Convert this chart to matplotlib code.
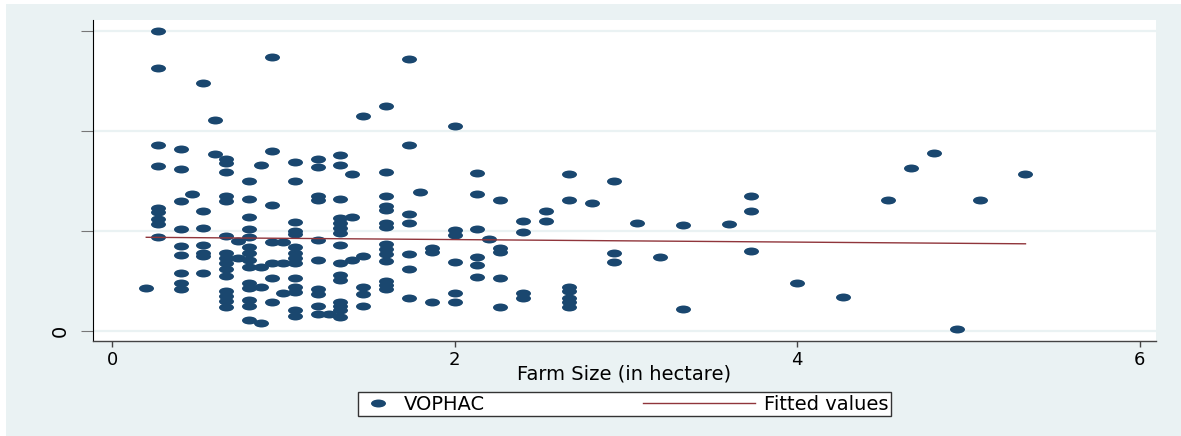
import matplotlib
matplotlib.use('Agg')
import matplotlib.pyplot as plt
import numpy as np
from matplotlib.path import Path
from matplotlib.transforms import Affine2D
from matplotlib.patches import Rectangle
from matplotlib.legend_handler import HandlerLine2D

plt.rcParams['font.family'] = ['DejaVu Sans']

# farm size (ha) and VOPHAC
farm_size = [
    0.2,
    0.267, 0.267, 0.267, 0.267, 0.267, 0.267, 0.267, 0.267, 0.267,
    0.4, 0.4, 0.4, 0.4, 0.4, 0.4, 0.4, 0.4, 0.4,
    0.467,
    0.533, 0.533, 0.533, 0.533, 0.533, 0.533, 0.533,
    0.6, 0.6,
    0.667, 0.667, 0.667, 0.667, 0.667, 0.667, 0.667, 0.667, 0.667, 0.667, 0.667, 0.667, 0.667, 0.667, 0.667,
    0.733, 0.733,
    0.8, 0.8, 0.8, 0.8, 0.8, 0.8, 0.8, 0.8, 0.8, 0.8, 0.8, 0.8, 0.8, 0.8,
    0.867, 0.867, 0.867, 0.867,
    0.933, 0.933, 0.933, 0.933, 0.933, 0.933, 0.933,
    1.0, 1.0, 1.0,
    1.067, 1.067, 1.067, 1.067, 1.067, 1.067, 1.067, 1.067, 1.067, 1.067, 1.067, 1.067, 1.067, 1.067,
    1.2, 1.2, 1.2, 1.2, 1.2, 1.2, 1.2, 1.2, 1.2, 1.2,
    1.267,
    1.333, 1.333, 1.333, 1.333, 1.333, 1.333, 1.333, 1.333, 1.333, 1.333, 1.333, 1.333, 1.333, 1.333, 1.333,
    1.4, 1.4, 1.4,
    1.467, 1.467, 1.467, 1.467, 1.467,
    1.6, 1.6, 1.6, 1.6, 1.6, 1.6, 1.6, 1.6, 1.6, 1.6, 1.6, 1.6, 1.6, 1.6,
    1.733, 1.733, 1.733, 1.733, 1.733, 1.733, 1.733,
    1.8,
    1.867, 1.867, 1.867,
    2.0, 2.0, 2.0, 2.0, 2.0, 2.0,
    2.133, 2.133, 2.133, 2.133, 2.133, 2.133,
    2.2,
    2.267, 2.267, 2.267, 2.267, 2.267,
    2.4, 2.4, 2.4, 2.4,
    2.533, 2.533,
    2.667, 2.667, 2.667, 2.667, 2.667, 2.667, 2.667,
    2.8,
    2.933, 2.933, 2.933,
    3.067,
    3.2,
    3.333, 3.333,
    3.6,
    3.733, 3.733, 3.733,
    4.0, 4.267, 4.533, 4.667, 4.8, 4.933, 5.067, 5.333,
]
vophac = [
    43,
    300, 263, 186, 165, 123, 119, 112, 107, 94,
    182, 162, 130, 102, 85, 76, 58, 48, 42,
    137,
    248, 120, 103, 86, 78, 75, 58,
    211, 177,
    172, 168, 159, 135, 130, 95, 78, 73, 68, 62, 55, 40, 35, 30, 24,
    90, 73,
    150, 132, 114, 102, 94, 84, 78, 71, 64, 48, 43, 31, 25, 11,
    166, 64, 44, 8,
    274, 180, 126, 89, 68, 53, 29,
    89, 68, 38,
    169, 150, 109, 100, 97, 84, 78, 73, 68, 53, 44, 39, 21, 15,
    172, 164, 135, 131, 91, 71, 42, 37, 25, 17,
    17,
    176, 166, 132, 113, 108, 103, 98, 86, 68, 56, 51, 29, 25, 21, 14,
    157, 114, 71,
    215, 75, 44, 37, 25,
    225, 159, 135, 125, 121, 108, 104, 87, 82, 77, 70, 50, 46, 42,
    272, 186, 117, 108, 77, 62, 33,
    139,
    83, 79, 29,
    205, 101, 96, 69, 38, 29,
    158, 137, 102, 74, 66, 54,
    92,
    131, 83, 79, 53, 24,
    110, 99, 38, 33,
    120, 110,
    157, 131, 44, 40, 33, 29, 24,
    128,
    150, 78, 69,
    108,
    74,
    106, 22,
    107,
    135, 120, 80,
    48, 34, 131, 163, 178, 2, 131, 157,
]

# linear fit (end points of the fitted values line)
fit_size = [0.2, 5.333]
fit_value = [93.7, 87.2]

xticks = [0, 2, 4, 6]
yticks = [0, 100, 200, 300]
ytick_labels = ['0', '', '', '']

navy = '#1a476f'
maroon = '#90353b'
bg = '#eaf2f3'

# the source picture is stretched sideways, so the dots are ovals
oval = Path.unit_circle().transformed(Affine2D().scale(1.0, 0.53))


class LongLine(HandlerLine2D):
    # legend line that reaches further left than the handle box
    def get_xdata(self, legend, xdescent, ydescent, width, height, fontsize):
        x = np.array([-xdescent - 4.0 * fontsize, -xdescent + width])
        return x, x


W, H = 1181, 436
fig = plt.figure(figsize=(W / 100, H / 100), dpi=100)
fig.patch.set_facecolor('white')
fig.add_artist(Rectangle((6 / W, 0), 1, 432 / H, transform=fig.transFigure,
                         facecolor=bg, edgecolor='none', zorder=-1))

ax = fig.add_axes([93 / W, 95 / H, 1063 / W, 321 / H])
ax.set_facecolor('white')

pts, = ax.plot(farm_size, vophac, linestyle='none', marker=oval, markersize=10.8,
               color=navy, markeredgewidth=0, label='VOPHAC')
fit, = ax.plot(fit_size, fit_value, color=maroon, lw=1.0, label='Fitted values')

ax.set_xlim(-0.111, 6.095)
ax.set_ylim(-10, 311)
ax.set_xticks(xticks)
ax.set_yticks(yticks)
ax.set_yticklabels(ytick_labels, rotation=90, va='center')
ax.tick_params(axis='x', length=4.3, width=1.0, color='#444', labelsize=13, pad=3)
ax.tick_params(axis='y', length=8.6, width=0.8, color='#777', labelsize=14, pad=8)
ax.yaxis.grid(True, color=bg, linewidth=1.6)
ax.set_axisbelow(True)
for s in ['top', 'right']:
    ax.spines[s].set_visible(False)
ax.spines['left'].set_color('black')
ax.spines['left'].set_linewidth(0.8)
ax.spines['bottom'].set_color('#444')
ax.spines['bottom'].set_linewidth(1.0)

ax.set_xlabel('Farm Size (in hectare)', fontsize=14, labelpad=-3)

leg = fig.legend([pts, fit], ['VOPHAC', 'Fitted values'], ncol=2, mode='expand',
                 bbox_to_anchor=(358 / W, 18 / H, 533 / W, 28 / H), loc='center',
                 borderaxespad=0, fontsize=14, handlelength=1.75, handletextpad=0.46,
                 borderpad=0.15, columnspacing=1, fancybox=False, edgecolor='#333',
                 framealpha=1, numpoints=1, handler_map={fit: LongLine()})
leg.get_frame().set_linewidth(1.0)

fig.savefig('out.png', dpi=100)
